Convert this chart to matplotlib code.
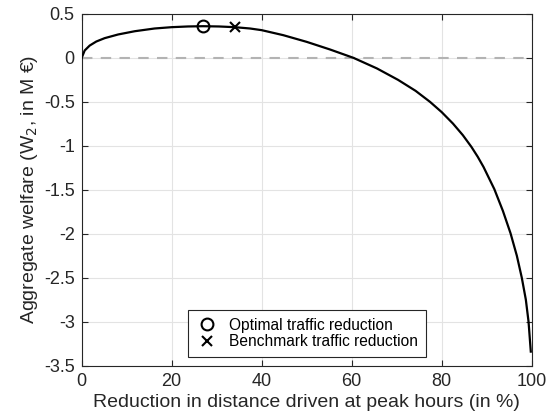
import matplotlib
matplotlib.use("Agg")
import matplotlib.pyplot as plt

plt.rcParams["font.family"] = ["Liberation Sans", "DejaVu Sans"]

# welfare curve
reduction = [0, 0.67, 1.78, 3.25, 5.1, 8.1, 11.8, 16.2, 20, 23.6, 27, 30.5,
             34, 37.4, 40, 44.8, 50, 55.2, 60.4, 65.6, 70.3, 74.2, 77.4,
             80, 82.5, 84.7, 86.6, 88, 89.3, 91.7, 93.6, 95.3, 96.7, 97.8,
             98.7, 99.3, 99.8]
welfare = [0, 0.084, 0.14, 0.186, 0.224, 0.266, 0.303, 0.334, 0.349, 0.357,
           0.36, 0.357, 0.349, 0.334, 0.315, 0.258, 0.182, 0.095, 0, -0.12,
           -0.25, -0.375, -0.5, -0.617, -0.747, -0.879, -1.012, -1.124,
           -1.241, -1.493, -1.74, -1.995, -2.25, -2.5, -2.75, -3.0, -3.34]

optimal_x, optimal_y = 27, 0.36
benchmark_x, benchmark_y = 34, 0.349

xticks = [0, 20, 40, 60, 80, 100]
yticks = [-3.5, -3, -2.5, -2, -1.5, -1, -0.5, 0, 0.5]
ytick_labels = ["-3.5", "-3", "-2.5", "-2", "-1.5", "-1", "-0.5", "0", "0.5"]

TEXT = "#262626"

fig = plt.figure(figsize=(5.46, 4.16), dpi=100)
ax = fig.add_axes([0.1496, 0.121, 0.8242, 0.8456])

ax.axhline(0, color="#b3b3b3", linestyle=(0, (5, 4)), linewidth=1.5, zorder=1)
ax.plot(reduction, welfare, color="black", linewidth=1.6, zorder=3,
        solid_joinstyle="round")
ax.plot(optimal_x, optimal_y, "o", markersize=8.5, markerfacecolor="none",
        markeredgecolor="black", markeredgewidth=1.5, zorder=4,
        label="Optimal traffic reduction", linestyle="none")
ax.plot(benchmark_x, benchmark_y, "x", markersize=6.5, color="black",
        markeredgewidth=1.5, zorder=4, label="Benchmark traffic reduction",
        linestyle="none")

ax.set_xlim(0, 100)
ax.set_ylim(-3.5, 0.5)
ax.set_xticks(xticks)
ax.set_yticks(yticks)
ax.set_yticklabels(ytick_labels)
ax.grid(True, color="#e3e3e3", linewidth=0.8)
ax.set_axisbelow(True)
ax.tick_params(direction="in", top=True, right=True, length=4, width=0.8,
               labelsize=13, colors=TEXT, pad=5)
for spine in ax.spines.values():
    spine.set_color(TEXT)
    spine.set_linewidth(0.8)

ax.set_xlabel("Reduction in distance driven at peak hours (in %)",
              fontsize=14, color=TEXT, labelpad=3)
ax.set_ylabel("Aggregate welfare (W$_2$, in M €)", fontsize=14,
              color=TEXT, labelpad=3)

leg = ax.legend(loc="lower center", bbox_to_anchor=(0.5, 0.025),
                borderaxespad=0, fontsize=11.2, frameon=True, fancybox=False,
                framealpha=1, edgecolor=TEXT, handletextpad=0.68,
                borderpad=0.5, labelspacing=0.1, handlelength=1.47)
leg.get_frame().set_linewidth(0.8)

fig.savefig("out.png", dpi=100)
